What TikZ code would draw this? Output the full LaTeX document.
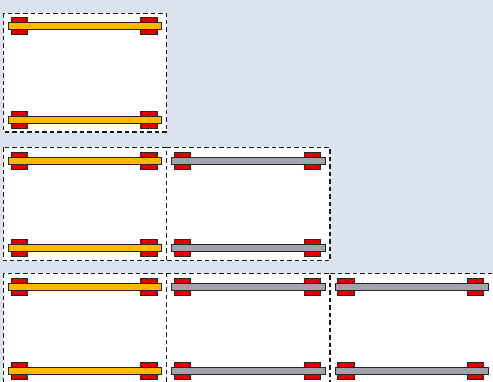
\documentclass[tikz,border=0pt]{standalone}
\definecolor{bgc}{HTML}{DCE3EF}
\definecolor{bary}{HTML}{FFB800}
\definecolor{barg}{HTML}{A2A2AA}
\definecolor{padc}{HTML}{E00000}
\newcommand\barpair[4]{%
  \foreach \yy in {#2,#3}{%
    \draw[padstyle] (#1+7.7,\yy-8.5) rectangle (#1+24,\yy+8.5);
    \draw[padstyle] (#1+137.5,\yy-8.5) rectangle (#1+153.7,\yy+8.5);
    \draw[barstyle,fill=#4] (#1+5,\yy-3.6) rectangle (#1+158.5,\yy+3.6);
  }}
\begin{document}
\begin{tikzpicture}[x=1pt,y=-1pt,
  cellbox/.style={draw=black!90,dash pattern=on 4.5pt off 3pt,line width=1.1pt},
  barstyle/.style={draw=black!85,line width=1pt},
  padstyle/.style={fill=padc,draw=black!85,line width=1pt}]
\useasboundingbox (0,0) rectangle (493,381);
\fill[bgc] (0,0) rectangle (493,381);
\clip (0,0) rectangle (493,381);
% box fills
\fill[white] (3.3,13.3) rectangle (166.7,132);
\fill[white] (3.3,147.3) rectangle (330,260.7);
\fill[white] (3.3,273.3) rectangle (505,392);
% box outlines (shared edges drawn once)
\draw[cellbox] (3.3,13.3) rectangle (166.7,132);
\draw[cellbox] (3.3,147.3) rectangle (166.7,260.7);
\draw[cellbox] (166.7,147.3) -- (330,147.3) -- (330,260.7) -- (166.7,260.7);
\draw[cellbox] (3.3,273.3) rectangle (166.7,392);
\draw[cellbox] (166.7,273.3) -- (330,273.3) -- (330,392);
\draw[cellbox] (330,273.3) -- (505,273.3);
% bars
\barpair{3.3}{26.3}{119.7}{bary}
\barpair{3.3}{161}{248.3}{bary}
\barpair{166.7}{161}{248.3}{barg}
\barpair{3.3}{286.7}{370.8}{bary}
\barpair{166.7}{286.7}{370.8}{barg}
\barpair{330}{286.7}{370.8}{barg}
\end{tikzpicture}
\end{document}
